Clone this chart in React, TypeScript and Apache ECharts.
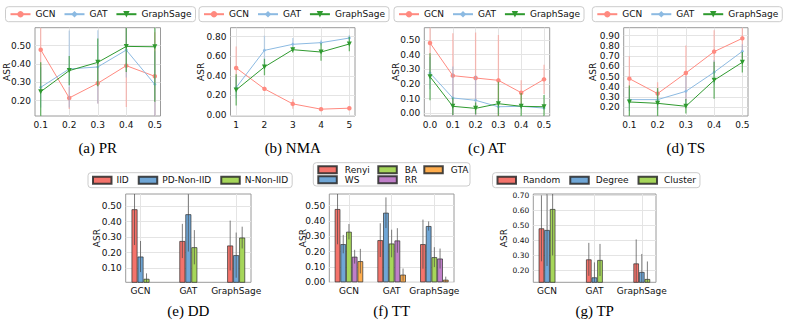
import React, { useEffect, useRef } from 'react';
import * as echarts from 'echarts';

// ---------------- data ----------------
const lineNames = ['GCN', 'GAT', 'GraphSage'];

// (a) PR
const prX = [0.1, 0.2, 0.3, 0.4, 0.5];
const prYTicks = [0.2, 0.3, 0.4, 0.5];
const prGCN = [0.478, 0.215, 0.295, 0.391, 0.333];
const prGCNErr = [0.22, 0.06, 0.11, 0.225, 0.24];
const prGAT = [0.273, 0.373, 0.384, 0.476, 0.289];
const prGATErr = [0.11, 0.21, 0.2, 0.15, 0.18];
const prSage = [0.249, 0.364, 0.409, 0.496, 0.494];
const prSageErr = [0.16, 0.08, 0.13, 0.14, 0.3];

// (b) NMA
const nmaX = [1, 2, 3, 4, 5];
const nmaYTicks = [0, 0.2, 0.4, 0.6, 0.8];
const nmaGCN = [0.48, 0.266, 0.112, 0.058, 0.068];
const nmaGCNErr = [0.22, 0.02, 0.05, 0.01, 0.012];
const nmaGAT = [0.279, 0.66, 0.722, 0.739, 0.786];
const nmaGATErr = [0.11, 0.15, 0.065, 0.03, 0.03];
const nmaSage = [0.255, 0.49, 0.667, 0.643, 0.725];
const nmaSageErr = [0.16, 0.085, 0.03, 0.09, 0.075];

// (c) AT
const atX = [0, 0.1, 0.2, 0.3, 0.4, 0.5];
const atYTicks = [0, 0.1, 0.2, 0.3, 0.4, 0.5];
const atGCN = [0.48, 0.257, 0.241, 0.225, 0.141, 0.232];
const atGCNErr = [0.22, 0.29, 0.31, 0.31, 0.085, 0.1];
const atGAT = [0.275, 0.105, 0.089, 0.045, 0.048, 0.036];
const atGATErr = [0.11, 0.215, 0.17, 0.05, 0.02, 0.01];
const atSage = [0.25, 0.048, 0.034, 0.066, 0.048, 0.045];
const atSageErr = [0.16, 0.06, 0.04, 0.15, 0.09, 0.08];

// (d) TS
const tsX = [0.1, 0.2, 0.3, 0.4, 0.5];
const tsYTicks = [0.2, 0.3, 0.4, 0.5, 0.6, 0.7, 0.8, 0.9];
const tsGCN = [0.48, 0.334, 0.535, 0.744, 0.874];
const tsGCNErr = [0.22, 0.11, 0.27, 0.21, 0.2];
const tsGAT = [0.275, 0.275, 0.356, 0.542, 0.747];
const tsGATErr = [0.11, 0.1, 0.15, 0.12, 0.07];
const tsSage = [0.252, 0.239, 0.21, 0.464, 0.64];
const tsSageErr = [0.16, 0.15, 0.07, 0.18, 0.1];

// bar panels
const groupNames = ['GCN', 'GAT', 'GraphSage'];
const groupX = [0, 1, 2];

// (e) DD
const ddNames = ['IID', 'PD-Non-IID', 'N-Non-IID'];
const ddYTicks = [0.1, 0.2, 0.3, 0.4, 0.5];
const ddIID = [0.479, 0.275, 0.246];
const ddIIDErr = [0.23, 0.11, 0.16];
const ddPD = [0.175, 0.447, 0.184];
const ddPDErr = [0.1, 0.24, 0.145];
const ddN = [0.032, 0.235, 0.297];
const ddNErr = [0.035, 0.11, 0.07];

// (f) TT
const ttNames = ['Renyi', 'WS', 'BA', 'RR', 'GTA'];
const ttYTicks = [0, 0.1, 0.2, 0.3, 0.4, 0.5];
const ttRenyi = [0.478, 0.275, 0.249];
const ttRenyiErr = [0.23, 0.11, 0.16];
const ttWS = [0.249, 0.454, 0.367];
const ttWSErr = [0.06, 0.1, 0.03];
const ttBA = [0.33, 0.253, 0.164];
const ttBAErr = [0.05, 0.09, 0.065];
const ttRR = [0.167, 0.273, 0.155];
const ttRRErr = [0.045, 0.08, 0.065];
const ttGTA = [0.138, 0.05, 0.017];
const ttGTAErr = [0.08, 0.04, 0.02];

// (g) TP
const tpNames = ['Random', 'Degree', 'Cluster'];
const tpYTicks = [0.2, 0.3, 0.4, 0.5, 0.6, 0.7];
const tpRandom = [0.478, 0.271, 0.244];
const tpRandomErr = [0.22, 0.11, 0.16];
const tpDegree = [0.467, 0.151, 0.187];
const tpDegreeErr = [0.24, 0.1, 0.12];
const tpCluster = [0.607, 0.267, 0.14];
const tpClusterErr = [0.31, 0.107, 0.117];

const titles = ['(a) PR', '(b) NMA', '(c) AT', '(d) TS', '(e) DD', '(f) TT', '(g) TP'];
const yName = 'ASR';

// ---------------- styles ----------------
const FONT = 'DejaVu Sans';
const SERIF = 'Liberation Serif';
const lineColors = ['#ff8a80', '#8cbae2', '#2f9a2f'];
const errColors = ['rgba(255,135,125,0.5)', 'rgba(135,180,222,0.5)', 'rgba(40,150,40,0.65)'];
const lineSymbols = ['circle', 'diamond', 'triangle'];
const lineSymbolSize = [4.5, 3.5, 5];
const lineSymbolRotate = [0, 0, 180];
const barColors = ['#f4736b', '#6fa6d6', '#a6d65a', '#bf7fc8', '#ffad4d'];
const gridLine = '#e4e4e4';
const frame = '#9a9a9a';

const TOP_Y = 27.7;
const TOP_H = 88.3;
const BOT_Y = 194;
const BOT_H = 88.3;

type TopPanel = {
  left: number; width: number; xMin: number; xMax: number; yMin: number; yMax: number;
  xs: number[]; yTicks: number[]; xDigits: number; series: number[][][]; legendLeft: number; asrX: number;
};

const topPanels: TopPanel[] = [
  { left: 35, width: 125.5, xMin: 0.08, xMax: 0.52, yMin: 0.1165, yMax: 0.598, xs: prX, yTicks: prYTicks, xDigits: 1,
    series: [[prGCN, prGCNErr], [prGAT, prGATErr], [prSage, prSageErr]], legendLeft: 5.5, asrX: 6.5 },
  { left: 230.5, width: 124.5, xMin: 0.8, xMax: 5.2, yMin: -0.012, yMax: 0.892, xs: nmaX, yTicks: nmaYTicks, xDigits: 0,
    series: [[nmaGCN, nmaGCNErr], [nmaGAT, nmaGATErr], [nmaSage, nmaSageErr]], legendLeft: 199, asrX: 201 },
  { left: 424.3, width: 125.4, xMin: -0.025, xMax: 0.525, yMin: -0.018, yMax: 0.584, xs: atX, yTicks: atYTicks, xDigits: 1,
    series: [[atGCN, atGCNErr], [atGAT, atGATErr], [atSage, atSageErr]], legendLeft: 394, asrX: 396.3 },
  { left: 623.7, width: 124.3, xMin: 0.08, xMax: 0.52, yMin: 0.115, yMax: 0.978, xs: tsX, yTicks: tsYTicks, xDigits: 1,
    series: [[tsGCN, tsGCNErr], [tsGAT, tsGATErr], [tsSage, tsSageErr]], legendLeft: 592.3, asrX: 593.3 },
];

type BarPanel = {
  left: number; width: number; xMin: number; xMax: number; yMin: number; yMax: number; yTicks: number[];
  names: string[]; series: number[][][]; barW: number; asrX: number; yFont: number;
};

const barPanels: BarPanel[] = [
  { left: 125.7, width: 125.3, xMin: -0.31, xMax: 2.31, yMin: 0.0095, yMax: 0.577, yTicks: ddYTicks, names: ddNames,
    series: [[ddIID, ddIIDErr], [ddPD, ddPDErr], [ddN, ddNErr]], barW: 6, asrX: 96.7, yFont: 9 },
  { left: 329.3, width: 124.7, xMin: -0.46, xMax: 2.46, yMin: 0, yMax: 0.576, yTicks: ttYTicks, names: ttNames,
    series: [[ttRenyi, ttRenyiErr], [ttWS, ttWSErr], [ttBA, ttBAErr], [ttRR, ttRRErr], [ttGTA, ttGTAErr]], barW: 5.7, asrX: 302.5, yFont: 9 },
  { left: 533.3, width: 122.7, xMin: -0.29, xMax: 2.3, yMin: 0.118, yMax: 0.707, yTicks: tpYTicks, names: tpNames,
    series: [[tpRandom, tpRandomErr], [tpDegree, tpDegreeErr], [tpCluster, tpClusterErr]], barW: 5.6, asrX: 503.5, yFont: 7.5 },
];

function clampLine(params: any, p1: number[], p2: number[], dx: number, stroke: string, lw: number) {
  const cs = params.coordSys;
  const c = (y: number) => Math.max(cs.y, Math.min(cs.y + cs.height, y));
  return {
    type: 'line',
    shape: { x1: p1[0] + dx, y1: c(p1[1]), x2: p2[0] + dx, y2: c(p2[1]) },
    style: { stroke, lineWidth: lw },
  };
}

function buildOption() {
  const grid: any[] = [];
  const xAxis: any[] = [];
  const yAxis: any[] = [];
  const series: any[] = [];
  const legend: any[] = [];
  const graphic: any[] = [];

  const labelStyle = (size: number) => ({ fontSize: size, fontFamily: FONT, color: '#111' });
  const legendText = { fontSize: 9, fontFamily: FONT, color: '#111' };

  topPanels.forEach((p, gi) => {
    grid.push({ left: p.left, top: TOP_Y, width: p.width, height: TOP_H, show: true, borderColor: frame, borderWidth: 1,
      backgroundColor: 'rgba(0,0,0,0)', containLabel: false, outerBoundsMode: 'none' });
    xAxis.push({
      gridIndex: gi, type: 'value', min: p.xMin, max: p.xMax,
      axisLine: { show: false }, axisTick: { show: false, customValues: p.xs },
      axisLabel: { customValues: p.xs, formatter: (v: number) => v.toFixed(p.xDigits), margin: 4, ...labelStyle(9) },
      splitLine: { show: true, lineStyle: { color: gridLine, width: 1 } },
    });
    yAxis.push({
      gridIndex: gi, type: 'value', min: p.yMin, max: p.yMax,
      axisLine: { show: false }, axisTick: { show: false, customValues: p.yTicks },
      axisLabel: { customValues: p.yTicks, formatter: (v: number) => v.toFixed(2), margin: 4, ...labelStyle(9) },
      splitLine: { show: true, lineStyle: { color: gridLine, width: 1 } },
    });
    p.series.forEach(([vals, errs], si) => {
      series.push({
        type: 'custom', name: lineNames[si] + ' error', xAxisIndex: gi, yAxisIndex: gi, silent: true, clip: true,
        z: 2 + si * 2,
        data: p.xs.map((x, i) => [x, vals[i] - errs[i], vals[i] + errs[i]]),
        encode: { x: 0, y: [1, 2] },
        renderItem: (params: any, api: any) => {
          const x = api.value(0);
          return clampLine(params, api.coord([x, api.value(1)]), api.coord([x, api.value(2)]), 0, errColors[si], 1.3);
        },
      });
      series.push({
        type: 'line', name: lineNames[si], xAxisIndex: gi, yAxisIndex: gi, z: 3 + si * 2,
        data: p.xs.map((x, i) => [x, vals[i]]),
        symbol: lineSymbols[si], symbolSize: lineSymbolSize[si], symbolRotate: lineSymbolRotate[si],
        lineStyle: { color: lineColors[si], width: 1 }, itemStyle: { color: lineColors[si] },
        emphasis: { disabled: true },
      });
    });
    legend.push({
      left: p.legendLeft, top: 6.7, orient: 'horizontal', data: lineNames, selectedMode: false,
      itemWidth: 20, itemHeight: 8, itemGap: 8, padding: [3, 4],
      borderColor: '#cccccc', borderWidth: 1, borderRadius: 3, backgroundColor: '#fff',
      textStyle: legendText,
    });
    graphic.push({
      type: 'text', x: p.left + p.width / 2, y: 148.3,
      style: { text: titles[gi], font: `15px "${SERIF}"`, textAlign: 'center', textVerticalAlign: 'middle', fill: '#000' },
    });
    graphic.push({
      type: 'text', x: p.asrX, y: TOP_Y + TOP_H / 2, rotation: Math.PI / 2,
      style: { text: yName, font: `9px "${FONT}"`, textAlign: 'center', textVerticalAlign: 'middle', fill: '#111' },
    });
  });

  barPanels.forEach((p, bi) => {
    const gi = bi + topPanels.length;
    grid.push({ left: p.left, top: BOT_Y, width: p.width, height: BOT_H, show: true, borderColor: frame, borderWidth: 1,
      backgroundColor: 'rgba(0,0,0,0)', containLabel: false, outerBoundsMode: 'none' });
    xAxis.push({
      gridIndex: gi, type: 'value', min: p.xMin, max: p.xMax,
      axisLine: { show: false }, axisTick: { show: false, customValues: groupX },
      axisLabel: { customValues: groupX, formatter: (v: number) => groupNames[Math.round(v)], margin: 4, ...labelStyle(9) },
      splitLine: { show: true, lineStyle: { color: gridLine, width: 1 } },
    });
    yAxis.push({
      gridIndex: gi, type: 'value', min: p.yMin, max: p.yMax,
      axisLine: { show: false }, axisTick: { show: false, customValues: p.yTicks },
      axisLabel: { customValues: p.yTicks, formatter: (v: number) => v.toFixed(2), margin: 4, ...labelStyle(p.yFont) },
      splitLine: { show: true, lineStyle: { color: gridLine, width: 1 } },
    });
    const n = p.series.length;
    p.series.forEach(([vals, errs], si) => {
      series.push({
        type: 'bar', name: p.names[si], xAxisIndex: gi, yAxisIndex: gi, z: 2,
        data: groupX.map((x, i) => [x, vals[i]]),
        barWidth: p.barW, barGap: '0%',
        itemStyle: { color: barColors[si], borderColor: 'rgba(40,40,40,0.85)', borderWidth: 0.8 },
        emphasis: { disabled: true },
      });
    });
    p.series.forEach(([vals, errs], si) => {
      const dx = (si - (n - 1) / 2) * p.barW;
      series.push({
        type: 'custom', name: p.names[si] + ' error', xAxisIndex: gi, yAxisIndex: gi, silent: true, clip: true, z: 4,
        data: groupX.map((x, i) => [x, vals[i] - errs[i], vals[i] + errs[i]]),
        encode: { x: 0, y: [1, 2] },
        renderItem: (params: any, api: any) => {
          const x = api.value(0);
          return clampLine(params, api.coord([x, api.value(1)]), api.coord([x, api.value(2)]), dx, 'rgba(70,70,70,0.7)', 1);
        },
      });
    });
    graphic.push({
      type: 'text', x: p.left + p.width / 2, y: 310.5,
      style: { text: titles[gi], font: `15px "${SERIF}"`, textAlign: 'center', textVerticalAlign: 'middle', fill: '#000' },
    });
    graphic.push({
      type: 'text', x: p.asrX, y: BOT_Y + BOT_H / 2, rotation: Math.PI / 2,
      style: { text: yName, font: `9px "${FONT}"`, textAlign: 'center', textVerticalAlign: 'middle', fill: '#111' },
    });
  });

  const barLegendBase = {
    selectedMode: false, icon: 'rect', itemWidth: 18.5, itemHeight: 7, textStyle: legendText,
  };
  // (e) legend
  legend.push({
    ...barLegendBase, left: 88, top: 172.7, orient: 'horizontal', data: ddNames, itemGap: 9, padding: [3, 4],
    borderColor: '#cccccc', borderWidth: 1, borderRadius: 3, backgroundColor: '#fff',
  });
  // (f) legend: three columns inside one box
  graphic.push({
    type: 'rect', z: 0, shape: { x: 313.3, y: 162.7, width: 156.7, height: 23.3, r: 3 },
    style: { fill: '#fff', stroke: '#cccccc', lineWidth: 1 },
  });
  const ttCols = [[ttNames[0], ttNames[1]], [ttNames[2], ttNames[3]], [ttNames[4]]];
  const ttColLeft = [317.3, 377.3, 423.3];
  ttCols.forEach((col, ci) => {
    legend.push({
      ...barLegendBase, left: ttColLeft[ci], top: 165.3, orient: 'vertical', data: col, itemGap: 1, padding: 0,
      textStyle: { ...legendText, padding: [0, 0, 0, 3] }, z: 5,
    });
  });
  // (g) legend
  legend.push({
    ...barLegendBase, left: 492.5, top: 172.7, orient: 'horizontal', data: tpNames, itemGap: 9, padding: [3, 4],
    borderColor: '#cccccc', borderWidth: 1, borderRadius: 3, backgroundColor: '#fff',
    textStyle: { ...legendText, padding: [0, 0, 0, 2] },
  });

  return { animation: false, backgroundColor: '#fff', grid, xAxis, yAxis, series, legend, graphic };
}

export default function App() {
  const ref = useRef<HTMLDivElement>(null);
  useEffect(() => {
    if (!ref.current) return;
    const chart = echarts.init(ref.current, undefined, { renderer: 'svg' });
    chart.setOption(buildOption() as any);
    return () => chart.dispose();
  }, []);
  return <div ref={ref} style={{ position: 'absolute', left: 0, top: 0, width: 789, height: 321 }} />;
}
